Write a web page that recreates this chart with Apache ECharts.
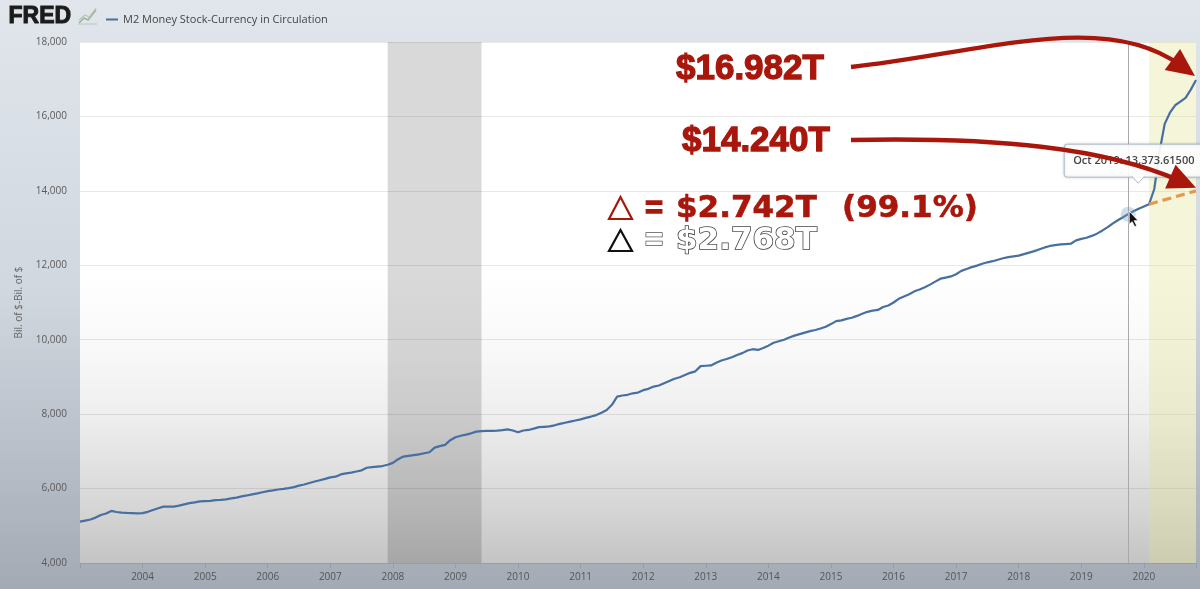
<!DOCTYPE html>
<html>
<head>
<meta charset="utf-8">
<script src="https://cdn.jsdelivr.net/npm/echarts@6/dist/echarts.min.js"></script>
<style>
  html, body { margin: 0; padding: 0; }
  #chart { width: 1200px; height: 589px; }
</style>
</head>
<body>
<div id="chart"></div>
<script>
const seriesName = 'M2 Money Stock-Currency in Circulation'
const firstYear = 2003
// monthly, Jan 2003 .. Nov 2020, billions of dollars
const m2Values = [
  5110, 5140, 5170, 5220, 5290, 5330, 5400, 5370, 5355, 5345, 5340, 5335, // 2003
  5340, 5375, 5425, 5470, 5515, 5515, 5515, 5540, 5575, 5610, 5630, 5655, // 2004
  5665, 5670, 5690, 5695, 5710, 5735, 5755, 5790, 5815, 5845, 5870, 5900, // 2005
  5930, 5950, 5975, 5990, 6010, 6040, 6080, 6110, 6150, 6190, 6225, 6260, // 2006
  6300, 6320, 6380, 6410, 6430, 6460, 6490, 6560, 6575, 6590, 6605, 6640, // 2007
  6690, 6790, 6860, 6880, 6900, 6920, 6950, 6975, 7100, 7140, 7175, 7300, // 2008
  7380, 7420, 7450, 7485, 7530, 7545, 7550, 7550, 7555, 7570, 7590, 7560, // 2009
  7515, 7560, 7575, 7610, 7650, 7660, 7670, 7700, 7740, 7770, 7800, 7830, // 2010
  7860, 7900, 7935, 7975, 8040, 8110, 8250, 8470, 8500, 8520, 8560, 8580, // 2011
  8645, 8680, 8740, 8770, 8830, 8890, 8950, 8990, 9050, 9110, 9150, 9290, // 2012
  9300, 9310, 9380, 9440, 9480, 9530, 9590, 9640, 9710, 9745, 9725, 9780, // 2013
  9840, 9920, 9960, 10000, 10060, 10110, 10150, 10190, 10230, 10260, 10300, 10350, // 2014
  10420, 10500, 10520, 10560, 10590, 10640, 10700, 10750, 10780, 10800, 10880, 10920, // 2015
  11000, 11100, 11160, 11220, 11300, 11350, 11410, 11480, 11560, 11640, 11670, 11700, // 2016
  11760, 11850, 11900, 11950, 11990, 12040, 12080, 12110, 12150, 12190, 12220, 12240, // 2017
  12260, 12300, 12340, 12380, 12430, 12480, 12520, 12540, 12560, 12570, 12580, 12670, // 2018
  12710, 12740, 12790, 12850, 12930, 13020, 13120, 13210, 13290, 13373.615, 13450, 13520, // 2019
  13580, 13640, 14050, 15050, 15800, 16100, 16300, 16400, 16500, 16720, 16980 // 2020
]
// pre-covid trend: Feb 2020 -> Nov 2020
const trendX = [2020 + 1 / 12, 2020 + 10 / 12]
const trendValues = [13640, 14000]
const recession = [2007 + 11 / 12, 2009 + 5 / 12]
const covidStart = 2020 + 1 / 12
const hoverIndex = (2019 - firstYear) * 12 + 9
const hoverLabel = 'Oct 2019: 13,373.61500'
const yTicks = { min: 4000, max: 18000, step: 2000 }

const RED = '#a9170c'
const points = m2Values.map((v, i) => [firstYear + i / 12, v])
const lastX = points[points.length - 1][0]

const chart = echarts.init(document.getElementById('chart'))

chart.setOption({
  animation: false,
  backgroundColor: {
    type: 'linear', x: 0, y: 0, x2: 0, y2: 1,
    colorStops: [
      { offset: 0, color: '#e1e6ec' },
      { offset: 0.5, color: '#d0d7df' },
      { offset: 1, color: '#a3aab4' }
    ]
  },
  grid: {
    left: 80, right: 4, top: 42, bottom: 26,
    show: true, borderWidth: 0,
    backgroundColor: {
      type: 'linear', x: 0, y: 0, x2: 0, y2: 1,
      colorStops: [
        { offset: 0, color: '#ffffff' },
        { offset: 0.45, color: '#ffffff' },
        { offset: 0.6, color: '#f8f8f8' },
        { offset: 0.72, color: '#eeeeee' },
        { offset: 0.9, color: '#d5d5d5' },
        { offset: 1, color: '#c4c4c4' }
      ]
    }
  },
  legend: {
    left: 101, top: 9,
    icon: 'rect', itemWidth: 12, itemHeight: 2, itemGap: 6,
    data: [seriesName],
    textStyle: { fontFamily: 'Open Sans', fontSize: 11, color: '#444' }
  },
  xAxis: {
    type: 'value',
    min: firstYear, max: lastX, interval: 1,
    splitLine: { show: false },
    axisLine: { show: false },
    axisTick: { show: true, length: 5, lineStyle: { color: 'rgba(120,130,145,0.35)' } },
    axisLabel: {
      margin: 9, fontFamily: 'Open Sans', fontSize: 10, color: '#555',
      formatter: (v) => (Number.isInteger(v) && v > firstYear ? String(v) : '')
    }
  },
  yAxis: {
    type: 'value',
    min: yTicks.min, max: yTicks.max, interval: yTicks.step,
    name: 'Bil. of $-Bil. of $',
    nameLocation: 'middle', nameGap: 56, nameRotate: 90,
    nameTextStyle: { fontFamily: 'Open Sans', fontSize: 10, color: '#666' },
    axisLine: { show: false },
    axisTick: { show: false },
    splitLine: { lineStyle: { color: 'rgba(0,0,0,0.09)', width: 1 } },
    axisLabel: {
      margin: 13, fontFamily: 'Open Sans', fontSize: 10, color: '#5a5a5a',
      formatter: (v) => v.toLocaleString('en-US')
    }
  },
  series: [
    {
      name: seriesName,
      type: 'line',
      data: points,
      showSymbol: false,
      z: 3,
      lineStyle: { color: '#476f9f', width: 2.2 },
      itemStyle: { color: '#476f9f' },
      markArea: {
        silent: true,
        data: [
          [{ xAxis: recession[0], itemStyle: { color: 'rgba(0,0,0,0.15)' } }, { xAxis: recession[1] }],
          [{ xAxis: covidStart, itemStyle: { color: 'rgba(225,225,140,0.32)' } }, { xAxis: lastX }]
        ]
      },
      markLine: {
        silent: true, symbol: 'none', label: { show: false },
        lineStyle: { color: '#a9a9a9', width: 1, type: 'solid' },
        data: [{ xAxis: points[hoverIndex][0] }]
      },
      markPoint: {
        silent: true, symbol: 'circle', symbolSize: 15,
        itemStyle: { color: 'rgba(120,155,195,0.35)' },
        label: { show: false },
        data: [{ coord: points[hoverIndex] }]
      }
    },
    {
      name: 'trend',
      type: 'line',
      data: trendX.map((x, i) => [x, trendValues[i]]),
      showSymbol: false,
      z: 4,
      lineStyle: { color: '#e39a4c', width: 3.2, type: [9, 5] }
    }
  ]
})

// annotations, anchored on data where they point
const px = (p) => chart.convertToPixel({ gridIndex: 0 }, p)
const endPx = px(points[points.length - 1])
const trendEndPx = px([trendX[1], trendValues[1]])
const hoverPx = px(points[hoverIndex])

function arrow(start, c1, c2, tip) {
  const dx = tip[0] - c2[0], dy = tip[1] - c2[1]
  const len = Math.hypot(dx, dy)
  const ux = dx / len, uy = dy / len
  const L = 28, W = 13
  const bx = tip[0] - ux * L, by = tip[1] - uy * L
  const end = [tip[0] - ux * 18, tip[1] - uy * 18]
  return [
    {
      type: 'bezierCurve', z: 60,
      shape: { x1: start[0], y1: start[1], cpx1: c1[0], cpy1: c1[1], cpx2: c2[0], cpy2: c2[1], x2: end[0], y2: end[1] },
      style: { stroke: RED, lineWidth: 4.4, fill: null }
    },
    {
      type: 'polygon', z: 61,
      shape: { points: [tip, [bx - uy * W, by + ux * W], [bx + uy * W, by - ux * W]] },
      style: { fill: RED }
    }
  ]
}

const tip1 = [endPx[0] - 1, endPx[1] - 4]
const tip2 = [trendEndPx[0], trendEndPx[1] - 3]
const hx = hoverPx[0], hy = hoverPx[1]

const bigText = { fontWeight: 'bold', textVerticalAlign: 'middle', stroke: RED, lineWidth: 1.3 }

chart.setOption({
  graphic: [
    // FRED logo
    { type: 'text', left: 8, top: 5, style: { text: 'FRED', fontFamily: 'Liberation Sans', fontWeight: 900, fontSize: 23, fill: '#1b1b1b', stroke: '#1b1b1b', lineWidth: 1 } },
    { type: 'polyline', shape: { points: [[79, 23], [84, 18], [88, 20], [96, 10]] }, style: { stroke: '#9fb78f', lineWidth: 1.6, fill: null } },
    { type: 'polyline', shape: { points: [[79, 20], [85, 15], [89, 17], [96, 8]] }, style: { stroke: '#b8c3cc', lineWidth: 1.2, fill: null } },
    { type: 'line', shape: { x1: 78, y1: 24, x2: 97, y2: 24 }, style: { stroke: '#b8c3cc', lineWidth: 1 } },

    // tooltip box
    {
      type: 'rect', z: 50,
      shape: { x: hx - 64, y: hy - 70, width: 146, height: 33, r: 3 },
      style: { fill: 'rgba(255,255,255,0.92)', stroke: '#aab8c9', lineWidth: 1, shadowBlur: 3, shadowColor: 'rgba(0,0,0,0.15)' }
    },
    {
      type: 'polygon', z: 51,
      shape: { points: [[hx + 4, hy - 37.5], [hx + 10, hy - 31], [hx + 16, hy - 37.5]] },
      style: { fill: '#ffffff', stroke: '#aab8c9', lineWidth: 1 }
    },
    { type: 'rect', z: 52, shape: { x: hx + 4.5, y: hy - 39, width: 11, height: 2 }, style: { fill: '#ffffff' } },
    {
      type: 'text', z: 53,
      style: { x: hx - 55, y: hy - 53.5, text: hoverLabel, fontFamily: 'Open Sans', fontSize: 11, fontWeight: 600, fill: '#444', textVerticalAlign: 'middle' }
    },
    // mouse cursor
    {
      type: 'polygon', z: 55,
      shape: { points: [[hx + 1, hy - 3], [hx + 1, hy + 10], [hx + 4, hy + 7.5], [hx + 6.5, hy + 12.5], [hx + 8.5, hy + 11.5], [hx + 6, hy + 6.5], [hx + 10, hy + 6.5]] },
      style: { fill: '#111', stroke: '#fff', lineWidth: 0.8 }
    },

    // big labels
    { type: 'text', z: 60, style: Object.assign({ x: 676, y: 69, text: '$16.982T', fontFamily: 'Liberation Sans', fontSize: 35, fill: RED }, bigText) },
    { type: 'text', z: 60, style: Object.assign({ x: 682, y: 141, text: '$14.240T', fontFamily: 'Liberation Sans', fontSize: 35, fill: RED }, bigText) },
    ...arrow([851, 67], [985, 52], [1105, 10], tip1),
    ...arrow([851, 140], [1000, 137], [1105, 148], tip2),

    // delta lines
    { type: 'polygon', z: 60, shape: { points: [[620.5, 197], [609, 219], [632, 219]] }, style: { fill: null, stroke: RED, lineWidth: 2.2 } },
    { type: 'text', z: 60, style: Object.assign({ x: 645, y: 209, text: '=', fontFamily: 'Liberation Sans', fontSize: 31, fill: RED }, bigText) },
    { type: 'text', z: 60, style: Object.assign({ x: 676, y: 209, text: '$2.742T', fontFamily: 'DejaVu Sans', fontSize: 31, fill: RED }, bigText, { lineWidth: 0.6 }) },
    { type: 'text', z: 60, style: Object.assign({ x: 842, y: 209, text: '(99.1%)', fontFamily: 'DejaVu Sans', fontSize: 31, fill: RED }, bigText, { lineWidth: 0.6 }) },

    { type: 'polygon', z: 60, shape: { points: [[620.5, 230], [609, 251], [632, 251]] }, style: { fill: null, stroke: '#111', lineWidth: 2.2 } },
    { type: 'text', z: 60, style: { x: 645, y: 241, text: '=', fontFamily: 'Liberation Sans', fontWeight: 'bold', fontSize: 31, fill: '#fff', stroke: '#555', lineWidth: 1.5, textVerticalAlign: 'middle' } },
    { type: 'text', z: 60, style: { x: 676, y: 241, text: '$2.768T', fontFamily: 'DejaVu Sans', fontWeight: 'bold', fontSize: 31, fill: '#fff', stroke: '#444', lineWidth: 1.6, textVerticalAlign: 'middle' } }
  ]
})
</script>
</body>
</html>
